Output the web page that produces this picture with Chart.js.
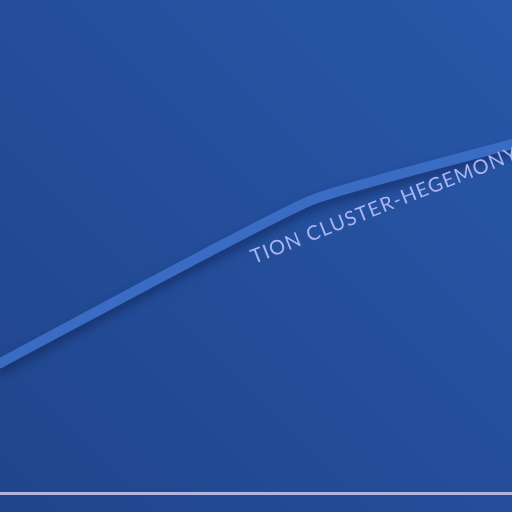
<!DOCTYPE html>
<html>
<head>
<meta charset="utf-8">
<script src="https://cdn.jsdelivr.net/npm/chart.js@4/dist/chart.umd.min.js"></script>
<style>
    html, body { margin: 0; padding: 0; background: #234a98; }
    #wrap { width: 512px; height: 512px; position: relative; }
</style>
</head>
<body>
<div id="wrap"><canvas id="chart"></canvas></div>
<script>
// Data (x from 0 to 100 across, y value 0 sits on the baseline)
const pathX = [0, 60.5, 100];
const pathY = [26.4, 59.3, 70.8];
const baseX = [0, 100];
const baseY = [0, 0];

// Label sitting under the curve
const labelText = "TION CLUSTER-HEGEMONY";
const labelX = 49.6;
const labelY = 46.5;
const labelAngle = -21.6;

const bgPlugin = {
    id: "bg",
    beforeDraw(chart) {
        const { ctx, width, height } = chart;
        const g = ctx.createLinearGradient(0, height, width, 0);
        g.addColorStop(0, "#20458c");
        g.addColorStop(1, "#2857a9");
        ctx.save();
        ctx.fillStyle = g;
        ctx.fillRect(0, 0, width, height);
        ctx.restore();
    }
};

// drop shadow under the main curve
const shadowPlugin = {
    id: "shadow",
    beforeDatasetDraw(chart, args) {
        if (args.index !== 0) return;
        const ctx = chart.ctx;
        ctx.save();
        ctx.shadowColor = "rgba(10, 25, 70, 0.5)";
        ctx.shadowBlur = 10;
        ctx.shadowOffsetY = 6;
    },
    afterDatasetDraw(chart, args) {
        if (args.index !== 0) return;
        chart.ctx.restore();
    }
};

const labelPlugin = {
    id: "curveLabel",
    afterDatasetsDraw(chart) {
        const { ctx, scales } = chart;
        const px = scales.x.getPixelForValue(labelX);
        const py = scales.y.getPixelForValue(labelY);
        ctx.save();
        ctx.translate(px, py);
        ctx.rotate(labelAngle * Math.PI / 180);
        ctx.font = "20px Lato, 'Noto Sans', sans-serif";
        ctx.letterSpacing = "1.2px";
        ctx.fillStyle = "#aab4f2";
        ctx.textBaseline = "alphabetic";
        ctx.textAlign = "left";
        ctx.fillText(labelText, 0, 0);
        ctx.restore();
    }
};

new Chart(document.getElementById("chart"), {
    type: "line",
    data: {
        datasets: [
            {
                label: "curve",
                data: pathX.map((x, i) => ({ x, y: pathY[i] })),
                borderColor: "#3a6cc4",
                borderWidth: 10,
                pointRadius: 0,
                tension: 0.15,
                fill: false,
                borderCapStyle: "round"
            },
            {
                label: "baseline",
                data: baseX.map((x, i) => ({ x, y: baseY[i] })),
                borderColor: "#b3b3dc",
                borderWidth: 3,
                pointRadius: 0,
                fill: false
            }
        ]
    },
    options: {
        responsive: true,
        maintainAspectRatio: false,
        animation: false,
        layout: { padding: 0 },
        plugins: { legend: { display: false }, tooltip: { enabled: false } },
        scales: {
            x: { type: "linear", min: 0, max: 100, display: false },
            y: { type: "linear", min: -3.75, max: 100, display: false }
        }
    },
    plugins: [bgPlugin, shadowPlugin, labelPlugin]
});
</script>
</body>
</html>
